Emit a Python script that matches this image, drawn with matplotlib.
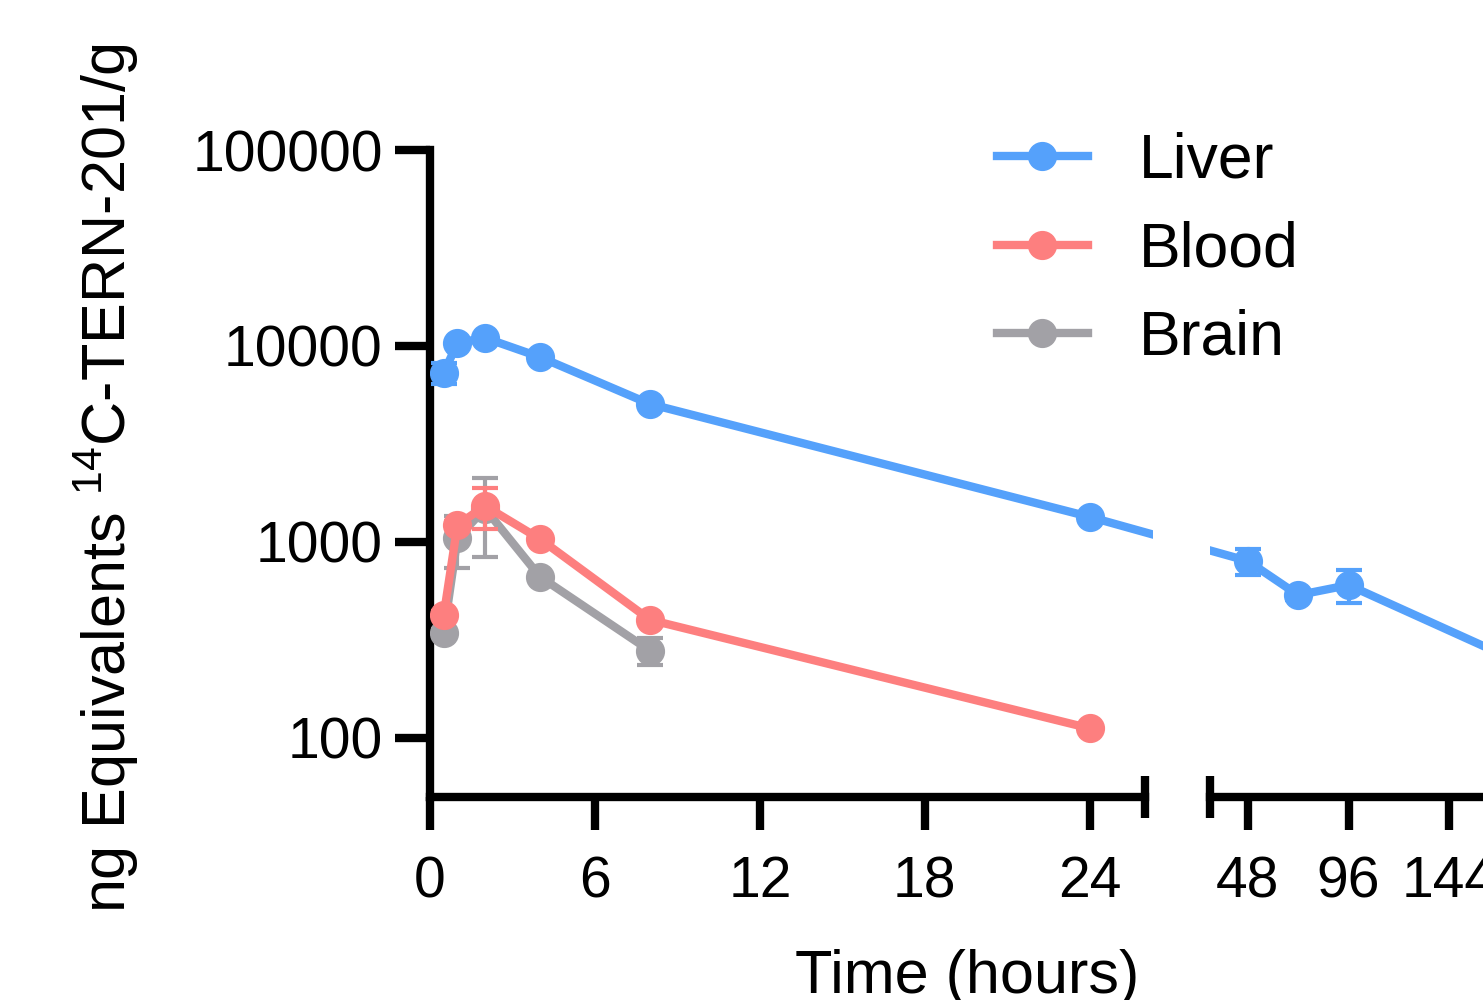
import numpy as np
import matplotlib.pyplot as plt
from matplotlib.lines import Line2D

plt.rcParams['font.family'] = ['Liberation Sans', 'DejaVu Sans']
plt.rcParams['mathtext.fontset'] = 'custom'
plt.rcParams['mathtext.rm'] = 'Liberation Sans'

# data
t_liver = [0.5, 1, 2, 4, 8, 24, 48, 72, 96, 168]
liver = [7300, 10350, 11000, 8780, 5060, 1343, 800, 536, 603, 270]
liver_sd = [900, 300, 300, 250, 150, 60, 122, 30, 115, 20]

t_blood = [0.5, 1, 2, 4, 8, 24]
blood = [424, 1222, 1528, 1036, 401, 112]
blood_sd = [20, 60, 360, 40, 15, 4]

t_brain = [0.5, 1, 2, 4, 8]
brain = [344, 1048, 1480, 665, 279]
brain_sd = [15, 310, 640, 25, 43]

c_liver = '#55A1FB'
c_blood = '#FD7F7F'
c_brain = '#A2A1A6'

W, H = 1483, 1000
fig = plt.figure(figsize=(W / 100, H / 100), dpi=100)

def px(x0, y0, x1, y1):
    return [x0 / W, 1 - y1 / H, (x1 - x0) / W, (y1 - y0) / H]

ax1 = fig.add_axes(px(430, 150, 1153, 797))
ax2 = fig.add_axes(px(1210, 150, 1525, 797))

lw = 6
ms = 20
slw = 6
for ax in (ax1, ax2):
    ax.set_yscale('log')
    ax.set_ylim(50, 100000)
    for s in ('top', 'right'):
        ax.spines[s].set_visible(False)
    ax.spines['bottom'].set_linewidth(slw)
    ax.spines['left'].set_linewidth(slw)
    ax.tick_params(axis='x', length=24, width=slw, labelsize=41, pad=18)
    ax.tick_params(axis='y', length=25, width=slw, labelsize=41, pad=9, which='major')
    ax.tick_params(axis='y', which='minor', length=0)

ax1.set_xlim(0, 26.3)
ax1.spines['bottom'].set_bounds(0, 26)
ax1.set_xticks([0, 6, 12, 18, 24])
ax1.set_yticks([100, 1000, 10000, 100000])
ax1.set_yticklabels(['100', '1000', '10000', '100000'])

ax2.set_xlim(30, 180)
ax2.set_xticks([48, 96, 144])
ax2.spines['left'].set_visible(False)
ax2.set_yticks([])
ax2.tick_params(axis='y', which='both', length=0)
ax2.patch.set_visible(False)

def series(ax, t, v, sd, c, z, lo, hi):
    k = [j for j in range(len(t)) if lo <= t[j] <= hi]
    if not k:
        return
    ax.errorbar([t[j] for j in k], [v[j] for j in k], yerr=[sd[j] for j in k],
                color=c, lw=lw, marker='o', ms=ms,
                elinewidth=3, capsize=9.5, capthick=3, zorder=z)

for ax, lo, hi in ((ax1, 0, 26), (ax2, 30, 1000)):
    series(ax, t_brain, brain, brain_sd, c_brain, 3, lo, hi)
    series(ax, t_blood, blood, blood_sd, c_blood, 4, lo, hi)
    series(ax, t_liver, liver, liver_sd, c_liver, 5, lo, hi)

# liver line across the axis break, straight in pixel space
i = t_liver.index(24)
p24 = ax1.transData.transform((t_liver[i], liver[i]))
p48 = ax2.transData.transform((t_liver[i + 1], liver[i + 1]))
x48_in1 = ax1.transData.inverted().transform(p48)[0]
x24_in2 = ax2.transData.inverted().transform(p24)[0]
ax1.plot([t_liver[i], x48_in1], [liver[i], liver[i + 1]], color=c_liver, lw=lw, zorder=5)
ax2.plot([x24_in2, t_liver[i + 1]], [liver[i], liver[i + 1]], color=c_liver, lw=lw, zorder=5)

# break bars
for ax, xb in ((ax1, 26), (ax2, 30)):
    tr = ax.get_xaxis_transform()
    ax.add_line(Line2D([xb, xb], [-21 / 647, 21 / 647], transform=tr,
                       color='black', lw=slw, clip_on=False, solid_capstyle='butt'))

fig.text(106 / W, 1 - 478 / H, r'ng Equivalents $^{14}$C-TERN-201/g',
         rotation=90, ha='center', va='center', fontsize=44)
fig.text(967 / W, 1 - 993 / H, 'Time (hours)', ha='center', va='baseline', fontsize=44)

handles = [Line2D([], [], color=c, lw=lw, marker='o', ms=ms) for c in (c_liver, c_blood, c_brain)]
fig.legend(handles, ['Liver', 'Blood', 'Brain'], loc='upper left',
           bbox_to_anchor=(997 / W, 1 - 132 / H), frameon=False, fontsize=45,
           handlelength=1.45, handletextpad=0.82, borderpad=0, borderaxespad=0,
           labelspacing=0.47)

fig.savefig('out.png', dpi=100)
